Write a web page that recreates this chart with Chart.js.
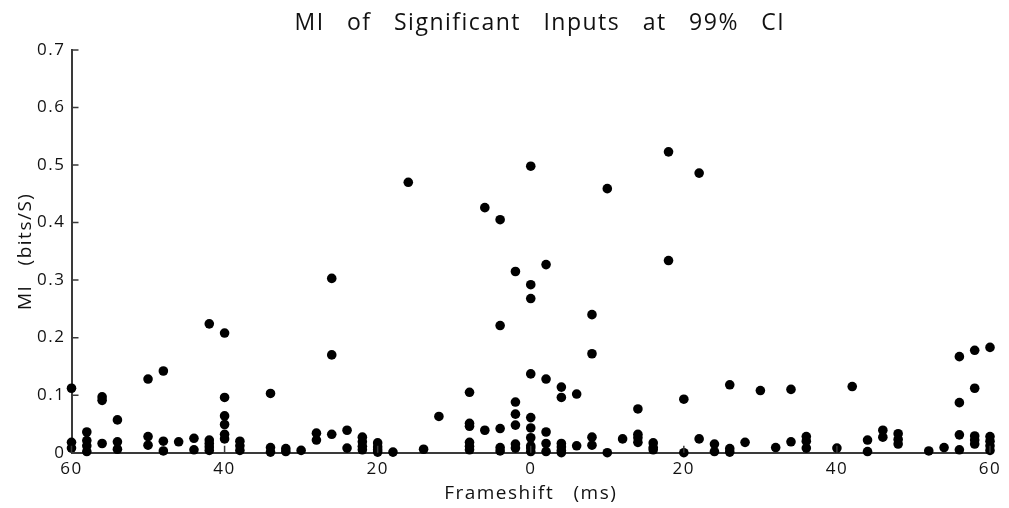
<!DOCTYPE html>
<html>
<head>
<meta charset="utf-8">
<script src="https://cdn.jsdelivr.net/npm/chart.js@4"></script>
<style>
  html, body { margin: 0; padding: 0; background: #fff; }
  #wrap { width: 1009px; height: 508px; }
</style>
</head>
<body>
<div id="wrap"><canvas id="chart" width="1009" height="508"></canvas></div>
<script>
// frameshift (ms) of each significant input, and its MI (bits/S)
const frameshift = [
  -60, -60, -60,
  -58, -58, -58, -58,
  -56, -56, -56,
  -54, -54, -54,
  -50, -50, -50,
  -48, -48, -48,
  -46,
  -44, -44,
  -42, -42, -42, -42, -42,
  -40, -40, -40, -40, -40, -40,
  -38, -38, -38,
  -34, -34, -34,
  -32, -32,
  -30,
  -28, -28,
  -26, -26, -26,
  -24, -24,
  -22, -22, -22, -22,
  -20, -20, -20, -20,
  -18,
  -16,
  -14,
  -12,
  -8, -8, -8, -8, -8, -8,
  -6, -6,
  -4, -4, -4, -4, -4,
  -2, -2, -2, -2, -2, -2,
  0, 0, 0, 0, 0, 0, 0, 0, 0, 0,
  2, 2, 2, 2, 2,
  4, 4, 4, 4, 4, 4,
  6, 6,
  8, 8, 8, 8,
  10, 10,
  12,
  14, 14, 14, 14,
  16, 16, 16,
  18, 18,
  20, 20,
  22, 22,
  24, 24,
  26, 26, 26,
  28,
  30,
  32,
  34, 34,
  36, 36, 36,
  40,
  42,
  44, 44,
  46, 46,
  48, 48, 48,
  52,
  54,
  56, 56, 56, 56,
  58, 58, 58, 58, 58,
  60, 60, 60, 60, 60
];
const mi = [
  0.112, 0.018, 0.008,
  0.036, 0.021, 0.012, 0.002,
  0.097, 0.091, 0.016,
  0.057, 0.019, 0.006,
  0.128, 0.028, 0.013,
  0.142, 0.020, 0.003,
  0.019,
  0.025, 0.005,
  0.224, 0.022, 0.016, 0.010, 0.004,
  0.208, 0.096, 0.064, 0.049, 0.032, 0.024,
  0.020, 0.012, 0.004,
  0.103, 0.009, 0.001,
  0.007, 0.002,
  0.004,
  0.034, 0.022,
  0.303, 0.170, 0.032,
  0.039, 0.008,
  0.027, 0.019, 0.011, 0.005,
  0.017, 0.010, 0.005, 0.001,
  0.001,
  0.470,
  0.006,
  0.063,
  0.105, 0.051, 0.046, 0.018, 0.011, 0.005,
  0.426, 0.039,
  0.405, 0.221, 0.042, 0.009, 0.003,
  0.315, 0.088, 0.067, 0.048, 0.015, 0.008,
  0.498, 0.292, 0.268, 0.137, 0.061, 0.043, 0.026, 0.012, 0.008, 0.002,
  0.327, 0.128, 0.036, 0.016, 0.002,
  0.114, 0.096, 0.016, 0.010, 0.004, 0.000,
  0.102, 0.012,
  0.240, 0.172, 0.027, 0.013,
  0.459, 0.000,
  0.024,
  0.076, 0.032, 0.026, 0.018,
  0.017, 0.009, 0.005,
  0.523, 0.334,
  0.093, 0.000,
  0.486, 0.024,
  0.015, 0.002,
  0.118, 0.007, 0.001,
  0.018,
  0.108,
  0.009,
  0.110, 0.019,
  0.028, 0.020, 0.008,
  0.008,
  0.115,
  0.022, 0.002,
  0.039, 0.027,
  0.033, 0.023, 0.015,
  0.003,
  0.009,
  0.167, 0.087, 0.031, 0.005,
  0.178, 0.112, 0.029, 0.022, 0.015,
  0.183, 0.028, 0.020, 0.012, 0.004
];

const xTicks = [-60, -40, -20, 0, 20, 40, 60];
const yTicks = [0, 0.1, 0.2, 0.3, 0.4, 0.5, 0.6, 0.7];

const points = frameshift.map((x, i) => ({ x: x, y: mi[i] }));
const axisColor = '#3a3a3a';
const fontFamily = "'Open Sans', 'Noto Sans', sans-serif";

// spaced-out lettering like the original figure
const spacing = {
  id: 'spacing',
  beforeDraw(chart) {
    chart.ctx.letterSpacing = '1.5px';
  }
};

// small tick marks pointing into the plot, matlab style
const innerTicks = {
  id: 'innerTicks',
  afterDraw(chart) {
    const ctx = chart.ctx;
    const xs = chart.scales.x;
    const ys = chart.scales.y;
    const area = chart.chartArea;
    ctx.save();
    ctx.strokeStyle = axisColor;
    ctx.lineWidth = 1.5;
    ctx.beginPath();
    xTicks.forEach(v => {
      const px = xs.getPixelForValue(v);
      ctx.moveTo(px, area.bottom);
      ctx.lineTo(px, area.bottom - 7);
    });
    yTicks.forEach(v => {
      const py = ys.getPixelForValue(v);
      ctx.moveTo(area.left, py);
      ctx.lineTo(area.left + 7, py);
    });
    ctx.stroke();
    ctx.restore();
  }
};

new Chart(document.getElementById('chart'), {
  type: 'scatter',
  data: {
    datasets: [{
      data: points,
      backgroundColor: '#000',
      borderColor: '#000',
      pointRadius: 4.8,
      pointHoverRadius: 4.8,
      borderWidth: 0,
      clip: false
    }]
  },
  options: {
    responsive: false,
    animation: false,
    layout: { padding: { left: 0, right: 19, top: 0, bottom: 0 } },
    plugins: {
      legend: { display: false },
      tooltip: { enabled: false },
      title: {
        display: true,
        // leading spaces push the title over the plot centre, as in the figure
        text: '            MI   of   Significant   Inputs   at   99%   CI',
        color: '#111',
        font: { family: fontFamily, size: 23, weight: 'normal' },
        padding: { top: 10, bottom: 12.4 }
      }
    },
    scales: {
      x: {
        type: 'linear',
        min: -60,
        max: 60,
        afterBuildTicks: scale => { scale.ticks = xTicks.map(v => ({ value: v })); },
        afterFit: scale => { scale.height = 55.3; },
        grid: { display: false, drawTicks: false },
        border: { display: true, color: axisColor, width: 2 },
        ticks: {
          color: '#111',
          padding: 6,
          maxRotation: 0,
          font: { family: fontFamily, size: 17 },
          callback: v => String(Math.abs(v))
        },
        title: {
          display: true,
          text: 'Frameshift   (ms)',
          color: '#111',
          font: { family: fontFamily, size: 19 },
          padding: { top: 0, bottom: 3 }
        }
      },
      y: {
        type: 'linear',
        min: 0,
        max: 0.7,
        afterBuildTicks: scale => { scale.ticks = yTicks.map(v => ({ value: v })); },
        afterFit: scale => { scale.width = 71.5; },
        grid: { display: false, drawTicks: false },
        border: { display: true, color: axisColor, width: 2 },
        ticks: {
          color: '#111',
          padding: 6,
          font: { family: fontFamily, size: 17 },
          callback: v => (v === 0 ? '0' : v.toFixed(1))
        },
        title: {
          display: true,
          text: 'MI   (bits/S)',
          color: '#111',
          font: { family: fontFamily, size: 19 },
          padding: { top: 14, bottom: 0 }
        }
      }
    }
  },
  plugins: [spacing, innerTicks]
});
</script>
</body>
</html>
